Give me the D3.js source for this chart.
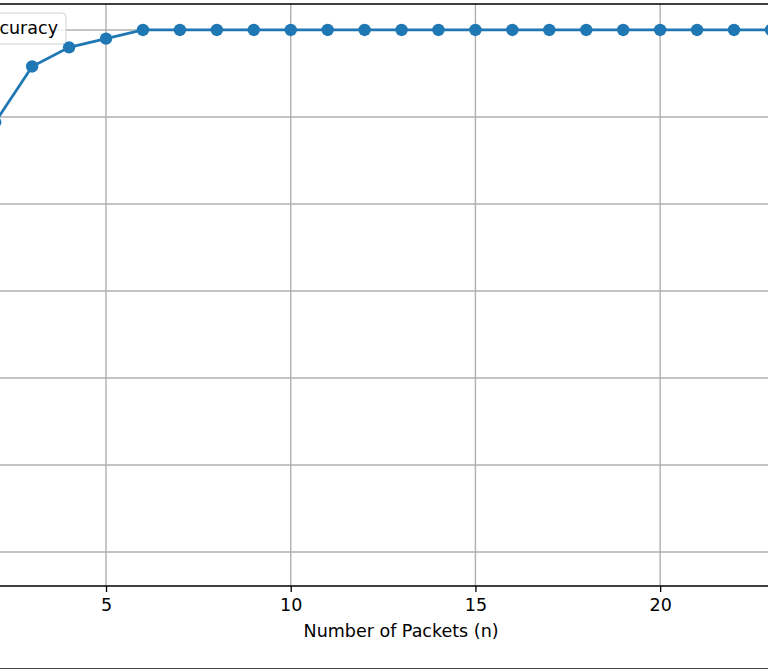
<!DOCTYPE html>
<html>
<head>
<meta charset="utf-8">
<script src="https://cdn.jsdelivr.net/npm/d3@7"></script>
<style>
  html, body { margin: 0; padding: 0; background: #fff; }
  svg { display: block; font-family: "DejaVu Sans", sans-serif; }
</style>
</head>
<body>
<svg id="chart" width="768" height="670"></svg>
<script>
// Data
const packets = [2, 3, 4, 5, 6, 7, 8, 9, 10, 11, 12, 13, 14, 15, 16, 17, 18, 19, 20, 21, 22, 23];
const accuracy = [0.947, 0.979, 0.990, 0.995, 1.0, 1.0, 1.0, 1.0, 1.0, 1.0, 1.0, 1.0, 1.0, 1.0, 1.0, 1.0, 1.0, 1.0, 1.0, 1.0, 1.0, 1.0];
const xTicks = [5, 10, 15, 20];
const yGrid = [0.70, 0.75, 0.80, 0.85, 0.90, 0.95, 1.00];
const seriesName = "Accuracy";
const xLabel = "Number of Packets (n)";

const svg = d3.select("#chart");
const W = 768;
const plotTop = 4, plotBottom = 586;

const x = d3.scaleLinear().domain([2.13, 22.92]).range([0, W]);
const y = d3.scaleLinear().domain([0.6805, 1.0149]).range([plotBottom, plotTop]);

const color = "#1f77b4";

// grid
svg.append("g").selectAll("line.gy").data(yGrid).join("line")
  .attr("x1", 0).attr("x2", W)
  .attr("y1", d => y(d)).attr("y2", d => y(d))
  .attr("stroke", "#b0b0b0").attr("stroke-width", 1.4);
svg.append("g").selectAll("line.gx").data(xTicks).join("line")
  .attr("x1", d => x(d)).attr("x2", d => x(d))
  .attr("y1", plotTop).attr("y2", plotBottom)
  .attr("stroke", "#b0b0b0").attr("stroke-width", 1.4);

// clip
svg.append("clipPath").attr("id", "clip").append("rect")
  .attr("x", 0).attr("y", plotTop).attr("width", W).attr("height", plotBottom - plotTop);

const g = svg.append("g").attr("clip-path", "url(#clip)");
const pts = packets.map((p, i) => [p, accuracy[i]]);
g.append("path").datum(pts)
  .attr("fill", "none").attr("stroke", color).attr("stroke-width", 2.8)
  .attr("d", d3.line().x(d => x(d[0])).y(d => y(d[1])));
g.selectAll("circle").data(pts).join("circle")
  .attr("cx", d => x(d[0])).attr("cy", d => y(d[1])).attr("r", 6.2)
  .attr("fill", color);

// spines
svg.append("line").attr("x1", 0).attr("x2", W).attr("y1", plotTop).attr("y2", plotTop)
  .attr("stroke", "#000").attr("stroke-width", 1.3);
svg.append("line").attr("x1", 0).attr("x2", W).attr("y1", plotBottom).attr("y2", plotBottom)
  .attr("stroke", "#000").attr("stroke-width", 1.3);

// x axis ticks
const xAxis = d3.axisBottom(x).tickValues(xTicks).tickSize(6).tickPadding(7).tickFormat(d3.format("d"));
const ax = svg.append("g").attr("transform", `translate(0,${plotBottom})`).call(xAxis);
ax.select(".domain").remove();
ax.selectAll(".tick line").attr("stroke", "#000").attr("stroke-width", 1.3);
ax.selectAll(".tick text").attr("fill", "#000").style("font-size", "17.5px")
  .style("font-family", "DejaVu Sans, sans-serif");

// x label
svg.append("text").attr("x", x(12.5) + 18).attr("y", 637)
  .attr("text-anchor", "middle").style("font-size", "17.5px").attr("fill", "#000")
  .text(xLabel);

// bottom border line
svg.append("line").attr("x1", 0).attr("x2", W).attr("y1", 668.5).attr("y2", 668.5)
  .attr("stroke", "#444").attr("stroke-width", 1.2);

// legend
const leg = svg.append("g");
leg.append("rect").attr("x", -120).attr("y", 13).attr("width", 186).attr("height", 31)
  .attr("rx", 4).attr("fill", "#fff").attr("fill-opacity", 0.8)
  .attr("stroke", "#d0d0d0").attr("stroke-width", 1);
leg.append("text").attr("x", 58).attr("y", 34).attr("text-anchor", "end")
  .style("font-size", "17.5px").attr("fill", "#000").text(seriesName);
</script>
</body>
</html>
